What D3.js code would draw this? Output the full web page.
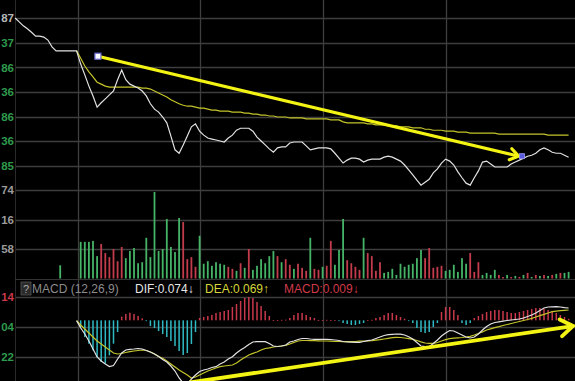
<!DOCTYPE html>
<html><head><meta charset="utf-8">
<script src="https://cdn.jsdelivr.net/npm/d3@7"></script>
<style>html,body{margin:0;padding:0;background:#000;overflow:hidden}svg{display:block}</style>
</head><body>
<script>
// ---------- data ----------
const closes = [4.87,4.79,4.71,4.65,4.58,4.50,4.50,4.48,4.42,4.28,
 4.20,4.20,4.20,4.20,4.20,4.20,3.93,3.71,3.48,3.28,
 3.05,3.14,3.22,3.30,3.38,3.61,3.81,3.61,3.52,3.48,
 3.44,3.38,3.28,3.12,3.01,2.95,2.85,2.73,2.46,2.18,
 2.11,2.28,2.46,2.65,2.71,2.56,2.48,2.42,2.40,2.38,
 2.36,2.34,2.42,2.48,2.58,2.62,2.62,2.62,2.56,2.44,
 2.36,2.28,2.20,2.13,2.22,2.24,2.24,2.32,2.34,2.34,
 2.34,2.26,2.18,2.20,2.22,2.22,2.22,2.20,2.11,2.01,
 1.91,1.97,2.01,2.01,1.99,1.93,1.97,1.99,1.99,1.99,
 2.03,2.05,2.03,1.99,1.95,1.87,1.77,1.67,1.56,1.46,
 1.52,1.58,1.71,1.79,1.91,1.99,1.95,1.87,1.73,1.61,
 1.50,1.46,1.61,1.75,1.93,1.95,1.89,1.83,1.83,1.83,
 1.83,1.89,1.93,1.97,2.01,2.05,2.07,2.11,2.18,2.22,
 2.18,2.13,2.11,2.11,2.07,2.03];

const maLine = [null,null,null,null,null,null,null,null,null,null,null,null,null,null,null,
 4.20,4.05,3.89,3.77,3.67,
 3.56,3.52,3.48,3.46,3.46,3.46,3.46,3.46,3.46,3.46,
 3.46,3.44,3.44,3.42,3.38,3.34,3.30,3.26,3.20,3.16,
 3.12,3.09,3.07,3.07,3.05,3.03,3.03,3.01,2.99,2.99,
 2.97,2.97,2.97,2.95,2.95,2.95,2.93,2.93,2.91,2.91,
 2.89,2.89,2.87,2.87,2.85,2.85,2.85,2.83,2.83,2.83,
 2.83,2.81,2.81,2.81,2.81,2.81,2.81,2.79,2.79,2.79,
 2.75,2.73,2.73,2.73,2.73,2.73,2.71,2.71,2.69,2.69,
 2.69,2.67,2.67,2.67,2.65,2.65,2.65,2.63,2.63,2.63,
 2.60,2.60,2.58,2.58,2.58,2.56,2.56,2.56,2.54,2.54,
 2.54,2.52,2.52,2.52,2.52,2.52,2.52,2.52,2.50,2.50,
 2.50,2.50,2.50,2.50,2.50,2.50,2.50,2.50,2.50,2.50,
 2.48,2.48,2.48,2.48,2.48,2.48];

const volumes = [null,null,null,null,null,null,null,null,null,null,
 null,26,null,null,null,null,72,72,72,74,
 44,68,50,42,58,34,62,40,54,60,
 30,32,80,42,170,54,58,117,62,52,
 119,111,38,42,23,84,29,34,25,32,
 29,27,23,19,15,30,21,58,17,25,
 38,30,44,54,44,32,38,27,19,29,
 21,15,80,19,17,23,25,74,27,56,
 117,36,30,23,17,80,50,44,15,32,
 11,13,19,7,29,23,27,29,40,56,
 40,60,21,23,25,15,17,27,13,40,
 29,50,13,32,7,11,7,17,7,3,
 7,3,5,3,7,11,3,7,5,7,
 5,7,9,11,11,13];

const volUp = [1,1,1,1,1,1,1,1,1,1,
 1,1,1,1,1,1,1,1,1,1,
 1,0,0,0,0,0,0,1,1,1,
 1,1,1,1,1,1,1,1,1,1,
 1,0,0,0,0,1,1,1,1,1,
 1,1,0,0,1,0,1,0,1,1,
 1,1,1,1,0,1,0,0,1,0,
 0,0,1,0,0,1,0,0,1,1,
 1,0,0,0,0,1,0,0,0,0,
 1,1,1,1,1,1,1,1,1,1,
 0,0,0,0,0,1,1,1,1,1,
 1,0,0,0,1,1,1,1,0,0,
 1,0,1,0,1,0,1,0,1,0,
 1,0,1,0,1,1];

const NN = [null,null,null,null,null,null,null,null,null,null,null,null,null,null,null];
const macdHist = NN.concat([0,
 -0.04,-0.10,-0.14,-0.18,-0.22,-0.25,-0.26,-0.21,-0.14,-0.07,
 0.022,0.038,0.046,0.038,0.026,0.012,-0.005,
 -0.034,-0.046,-0.064,-0.082,-0.10,-0.124,-0.154,-0.184,-0.208,-0.196,-0.142,-0.07,
 0.014,0.02,0.026,0.032,0.044,0.05,0.056,0.062,0.08,0.098,0.116,0.134,0.14,0.134,0.11,0.086,0.056,0.026,0.002,
 0.002,0.003,0.004,
 0.014,0.032,0.044,0.044,0.032,0.02,0.014,0.002,
 0.002,0.003,0.002,0.001,
 -0.004,
 -0.016,-0.022,-0.028,-0.028,-0.022,-0.016,
 0.002,0.003,
 0.014,0.02,0.032,0.044,0.044,0.032,0.02,
 0.01,-0.004,
 -0.016,-0.046,-0.07,-0.076,-0.07,-0.04,-0.016,
 0.05,0.08,0.08,0.062,0.032,
 -0.016,-0.028,-0.016,
 0.014,0.026,0.038,0.05,0.056,0.062,0.062,0.056,0.05,0.044,0.044,0.05,0.056,0.062,0.068,0.074,0.074,0.068,0.062,0.056,0.044,0.032,0.02,0.009]);

const difLine = NN.concat([
 -0.002,-0.046,-0.082,-0.124,-0.172,-0.220,-0.244,-0.262,-0.277,-0.271,
 -0.232,-0.196,-0.178,-0.174,-0.172,-0.169,-0.172,-0.181,-0.190,-0.202,
 -0.217,-0.235,-0.250,-0.274,-0.304,-0.346,-0.376,-0.382,-0.352,-0.328,
 -0.307,-0.298,-0.292,-0.283,-0.278,-0.262,-0.250,-0.232,-0.218,-0.196,
 -0.178,-0.163,-0.145,-0.130,-0.128,-0.128,-0.128,-0.139,-0.154,-0.157,
 -0.154,-0.148,-0.130,-0.124,-0.115,-0.109,-0.109,-0.112,-0.114,-0.114,
 -0.114,-0.114,-0.115,-0.118,-0.121,-0.127,-0.130,-0.131,-0.132,-0.132,
 -0.127,-0.122,-0.118,-0.109,-0.100,-0.091,-0.086,-0.084,-0.082,-0.083,
 -0.088,-0.098,-0.112,-0.133,-0.154,-0.158,-0.158,-0.139,-0.118,-0.094,
 -0.076,-0.061,-0.064,-0.076,-0.088,-0.100,-0.106,-0.100,-0.082,-0.058,
 -0.037,-0.022,-0.013,-0.009,-0.005,-0.001,0.002,0.005,0.008,0.014,
 0.023,0.032,0.044,0.059,0.074,0.080,0.081,0.082,0.080,0.076,0.074]);

const deaLine = NN.concat([
 -0.002,-0.028,-0.052,-0.076,-0.100,-0.124,-0.142,-0.160,-0.178,-0.196,
 -0.202,-0.199,-0.193,-0.188,-0.184,-0.181,-0.178,-0.181,-0.190,-0.202,
 -0.217,-0.228,-0.244,-0.262,-0.280,-0.298,-0.313,-0.328,-0.346,-0.340,
 -0.328,-0.316,-0.304,-0.295,-0.286,-0.278,-0.274,-0.271,-0.268,-0.256,
 -0.238,-0.223,-0.208,-0.198,-0.190,-0.178,-0.169,-0.165,-0.160,-0.157,
 -0.154,-0.151,-0.142,-0.133,-0.124,-0.121,-0.121,-0.122,-0.122,-0.123,
 -0.124,-0.124,-0.125,-0.127,-0.127,-0.128,-0.128,-0.128,-0.127,-0.125,
 -0.124,-0.124,-0.122,-0.119,-0.116,-0.112,-0.108,-0.104,-0.102,-0.103,
 -0.106,-0.110,-0.114,-0.121,-0.129,-0.136,-0.138,-0.138,-0.133,-0.124,
 -0.116,-0.110,-0.107,-0.105,-0.103,-0.100,-0.096,-0.088,-0.079,-0.069,
 -0.058,-0.051,-0.044,-0.038,-0.031,-0.025,-0.019,-0.013,-0.007,-0.001,
 0.005,0.012,0.020,0.028,0.036,0.044,0.052,0.055,0.058,0.060,0.062]);

const priceTicks = [4.87,4.37,3.86,3.36,2.86,2.36,1.85];
const volTicks = [174,116,58];
const macdTicks = [0.14,-0.04,-0.22,-0.40];
const periodStarts = [15.3,45.2,75.2,105.2];
const priceTrend = [[20.2,4.09],[122.8,2.05]];
const macdTrend = [[42.7,-0.373],[136.1,-0.034]];
const headerItems = [
  {t:"MACD (12,26,9)", c:"#8c8c8c"},
  {t:"DIF:0.074\u2193", c:"#e6e6e6"},
  {t:"DEA:0.069\u2191", c:"#d6d63a"},
  {t:"MACD:0.009\u2193", c:"#d23a48"}
];

// ---------- scales ----------
const W = 575, H = 381;
const x = d3.scaleLinear().domain([0,135]).range([15.1,568.6]);
const yP = d3.scaleLinear().domain([1.85,4.87]).range([166,18]);
const yV = d3.scaleLinear().domain([0,174]).range([278.5,190]);
const yM = d3.scaleLinear().domain([-0.40,0.14]).range([387,297]);

const svg = d3.select("body").append("svg").attr("width",W).attr("height",H);
svg.append("rect").attr("width",W).attr("height",H).attr("fill","#000");

const GRID = "#3e3e3e";
const g = svg.append("g");
const hLines = priceTicks.map(v=>yP(v)).concat(volTicks.map(v=>yV(v))).concat(macdTicks.map(v=>yM(v)));
g.selectAll(".hg").data(hLines).join("line")
  .attr("x1",15).attr("x2",W).attr("y1",d=>Math.round(d)+0.5).attr("y2",d=>Math.round(d)+0.5)
  .attr("stroke",GRID).attr("stroke-width",1.3);
g.selectAll(".vg").data(periodStarts).join("line")
  .attr("x1",d=>Math.round(x(d))+0.5).attr("x2",d=>Math.round(x(d))+0.5).attr("y1",0).attr("y2",H)
  .attr("stroke",GRID).attr("stroke-width",1.3);
g.append("line").attr("x1",15.5).attr("x2",15.5).attr("y1",0).attr("y2",H).attr("stroke","#2a2a2a");
g.append("line").attr("x1",15).attr("x2",W).attr("y1",279.5).attr("y2",279.5).attr("stroke","#333");

// volume bars
const GREEN = "#45b466", RED = "#c23c4c";
svg.append("g").selectAll("rect").data(volumes.map((v,i)=>({v,i})).filter(d=>d.v!=null)).join("rect")
  .attr("x",d=>x(d.i)-0.9).attr("width",1.8)
  .attr("y",d=>yV(d.v)).attr("height",d=>yV(0)-yV(d.v))
  .attr("fill",d=>volUp[d.i]?GREEN:RED);

// price lines
const lineP = d3.line().defined(d=>d!=null).x((d,i)=>x(i)).y(d=>yP(d));
svg.append("path").attr("d",lineP(maLine)).attr("fill","none").attr("stroke","#c4c42a").attr("stroke-width",1.2);
svg.append("path").attr("d",lineP(closes)).attr("fill","none").attr("stroke","#e2e2e2").attr("stroke-width",1.2);

// MACD histogram
svg.append("g").selectAll("rect").data(macdHist.map((v,i)=>({v,i})).filter(d=>d.v!=null && d.v!==0)).join("rect")
  .attr("x",d=>x(d.i)-0.75).attr("width",1.5)
  .attr("y",d=>Math.min(yM(d.v),yM(0))).attr("height",d=>Math.max(0.8,Math.abs(yM(d.v)-yM(0))))
  .attr("fill",d=>d.v>0?"#c8384a":"#2fb9c4");
const lineM = d3.line().defined(d=>d!=null).x((d,i)=>x(i)).y(d=>yM(d));
svg.append("path").attr("d",lineM(deaLine)).attr("fill","none").attr("stroke","#c4c42a").attr("stroke-width",1.2);
svg.append("path").attr("d",lineM(difLine)).attr("fill","none").attr("stroke","#e2e2e2").attr("stroke-width",1.2);

// trend arrows
const ARROW = "#f4f414";
function arrow(pts, ys, w, arm, ang){
  const [a,b] = pts;
  const x1=x(a[0]), y1=ys(a[1]), x2=x(b[0]), y2=ys(b[1]);
  const th = Math.atan2(y2-y1,x2-x1);
  svg.append("line").attr("x1",x1).attr("y1",y1).attr("x2",x2-Math.cos(th)*2).attr("y2",y2-Math.sin(th)*2)
    .attr("stroke",ARROW).attr("stroke-width",w).attr("stroke-linecap","round");
  const p1=[x2-arm*Math.cos(th-ang), y2-arm*Math.sin(th-ang)];
  const p2=[x2-arm*Math.cos(th+ang), y2-arm*Math.sin(th+ang)];
  svg.append("path").attr("d",`M${p1}L${x2},${y2}L${p2}`).attr("fill","none")
    .attr("stroke",ARROW).attr("stroke-width",w).attr("stroke-linejoin","miter").attr("stroke-linecap","round");
  return [x1,y1,x2,y2];
}
const a1 = arrow(priceTrend, yP, 3.2, 10, 0.6);
svg.append("rect").attr("x",a1[0]-3).attr("y",a1[1]-3).attr("width",6).attr("height",6)
  .attr("fill","#fff").attr("stroke","#6a6ad8").attr("stroke-width",1.2);
svg.append("rect").attr("x",a1[2]+1).attr("y",a1[3]-2.5).attr("width",5).attr("height",5)
  .attr("fill","#5a5ae0").attr("stroke","#9a9af0").attr("stroke-width",0.8);
arrow(macdTrend, yM, 3.8, 15, 0.6);

// header
svg.append("rect").attr("x",21).attr("y",282).attr("width",10).attr("height",13).attr("fill","#2a2a2a").attr("stroke","#555").attr("stroke-width",0.8);
svg.append("text").attr("x",26).attr("y",293).attr("text-anchor","middle").attr("fill","#aaa")
  .style("font","11px 'Liberation Sans', Arial, sans-serif").text("?");
const hx = [32,135,205,284];
svg.selectAll(".hd").data(headerItems).join("text")
  .attr("x",(d,i)=>hx[i]).attr("y",293).attr("fill",d=>d.c)
  .style("font","12px 'Liberation Sans', Arial, sans-serif").text(d=>d.t);

// axis labels (left edge clips them as in the reference)
const LF = "bold 11.5px 'Liberation Sans', Arial, sans-serif";
const two = v => d3.format(".2f")(Math.abs(v)).slice(-2);
svg.selectAll(".pl").data(priceTicks).join("text")
  .attr("x",14).attr("y",d=>yP(d)).attr("dy","0.36em").attr("text-anchor","end")
  .attr("fill",(d,i)=>i===0?"#b8b8b8":"#2e9a4c").style("font",LF).text(two);
svg.selectAll(".vl").data(volTicks).join("text")
  .attr("x",14).attr("y",d=>yV(d)).attr("dy","0.36em").attr("text-anchor","end")
  .attr("fill","#9a9a9a").style("font",LF).text(d=>String(d).slice(-2));
svg.selectAll(".ml").data(macdTicks).join("text")
  .attr("x",14).attr("y",d=>yM(d)).attr("dy","0.36em").attr("text-anchor","end")
  .attr("fill",d=>d>0?"#c8384a":"#2e9a4c").style("font",LF).text(two);
</script>
</body></html>
